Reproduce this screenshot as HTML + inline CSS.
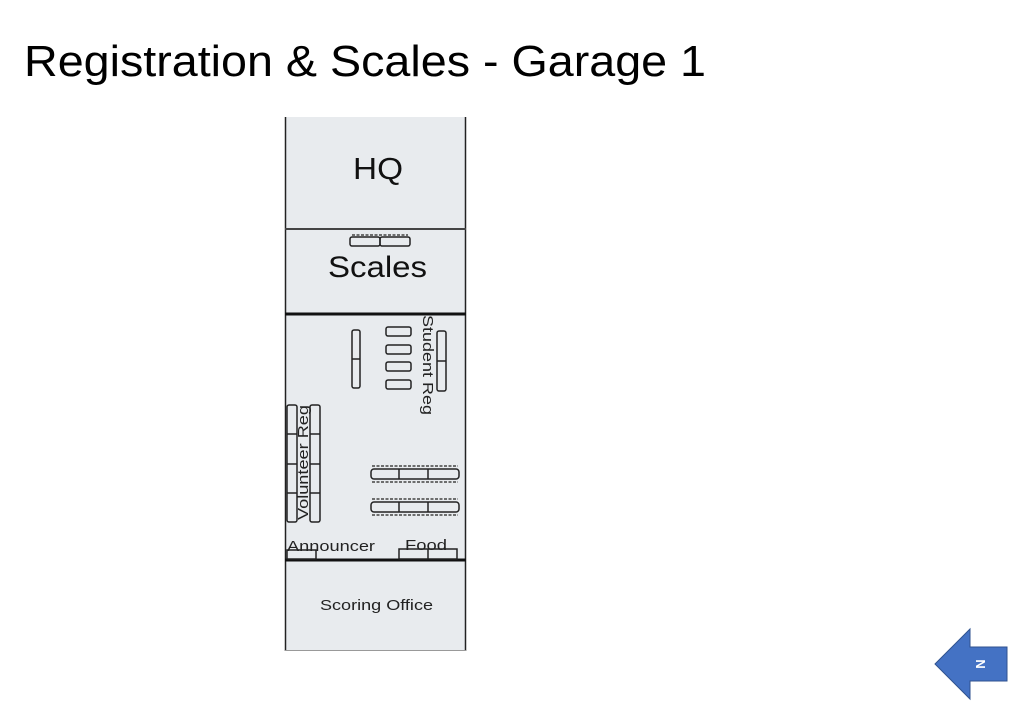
<!DOCTYPE html>
<html><head><style>
body{margin:0;width:1024px;height:712px;background:#fff;overflow:hidden;font-family:"Liberation Sans",sans-serif}
</style></head><body>
<svg width="1024" height="712" xmlns="http://www.w3.org/2000/svg" font-family="Liberation Sans, sans-serif">
<text x="24" y="76" font-size="44" fill="#000" textLength="682" lengthAdjust="spacingAndGlyphs">Registration &amp; Scales - Garage 1</text>
<rect x="285" y="117" width="181" height="534" fill="#e8ebee"/>
<line x1="285.5" y1="117" x2="285.5" y2="651" stroke="#222" stroke-width="1.5"/>
<line x1="465.5" y1="117" x2="465.5" y2="651" stroke="#222" stroke-width="1.5"/>
<line x1="285" y1="650.5" x2="466" y2="650.5" stroke="#999" stroke-width="1"/>
<line x1="285" y1="229" x2="466" y2="229" stroke="#444" stroke-width="2"/>
<line x1="285" y1="314" x2="466" y2="314" stroke="#111" stroke-width="3"/>
<line x1="285" y1="560" x2="466" y2="560" stroke="#111" stroke-width="3"/>
<text x="353" y="179" font-size="31" fill="#111" textLength="50" lengthAdjust="spacingAndGlyphs">HQ</text>
<text x="328" y="277" font-size="30" fill="#111" textLength="99" lengthAdjust="spacingAndGlyphs">Scales</text>
<g fill="none" stroke="#222" stroke-width="1.5">
<rect x="350" y="237" width="30" height="9" rx="2"/><rect x="380" y="237" width="30" height="9" rx="2"/>
<rect x="352" y="330" width="8" height="58" rx="2"/><line x1="352" y1="359" x2="360" y2="359"/>
<rect x="386" y="327" width="25" height="9" rx="2"/><rect x="386" y="345" width="25" height="9" rx="2"/>
<rect x="386" y="362" width="25" height="9" rx="2"/><rect x="386" y="380" width="25" height="9" rx="2"/>
<rect x="437" y="331" width="9" height="60" rx="2"/><line x1="437" y1="361" x2="446" y2="361"/>
<rect x="287" y="405" width="10" height="117" rx="2"/><rect x="310" y="405" width="10" height="117" rx="2"/>
<line x1="287" y1="434" x2="297" y2="434"/><line x1="287" y1="464" x2="297" y2="464"/><line x1="287" y1="493" x2="297" y2="493"/>
<line x1="310" y1="434" x2="320" y2="434"/><line x1="310" y1="464" x2="320" y2="464"/><line x1="310" y1="493" x2="320" y2="493"/>
<rect x="371" y="469" width="88" height="10" rx="3"/><line x1="399" y1="469" x2="399" y2="479"/><line x1="428" y1="469" x2="428" y2="479"/>
<rect x="371" y="502" width="88" height="10" rx="3"/><line x1="399" y1="502" x2="399" y2="512"/><line x1="428" y1="502" x2="428" y2="512"/>
<rect x="287" y="550" width="29" height="9"/>
<rect x="399" y="549" width="58" height="10"/><line x1="428" y1="549" x2="428" y2="559"/>
</g>
<g fill="none" stroke="#444" stroke-width="1.5" stroke-dasharray="3 1.5">
<line x1="352" y1="235" x2="408" y2="235"/>
<line x1="372" y1="466" x2="458" y2="466"/><line x1="372" y1="482" x2="458" y2="482"/>
<line x1="372" y1="499" x2="458" y2="499"/><line x1="372" y1="515" x2="458" y2="515"/>
</g>
<text transform="translate(423,315) rotate(90)" font-size="15" fill="#222" textLength="100" lengthAdjust="spacingAndGlyphs">Student Reg</text>
<text transform="translate(308,520) rotate(-90)" font-size="15" fill="#222" textLength="115" lengthAdjust="spacingAndGlyphs">Volunteer Reg</text>
<text x="287" y="551" font-size="15" fill="#222" textLength="88" lengthAdjust="spacingAndGlyphs">Announcer</text>
<text x="405" y="550" font-size="15" fill="#222" textLength="42" lengthAdjust="spacingAndGlyphs">Food</text>
<text x="320" y="610" font-size="15" fill="#222" textLength="113" lengthAdjust="spacingAndGlyphs">Scoring Office</text>
<polygon points="935,664 970,629 970,647 1007,647 1007,681 970,681 970,699" fill="#4472c4" stroke="#2f528f" stroke-width="1"/>
<text transform="translate(981,664) rotate(90)" font-size="13" font-weight="bold" text-anchor="middle" fill="#fff" dy="5">N</text>
</svg>
</body></html>
